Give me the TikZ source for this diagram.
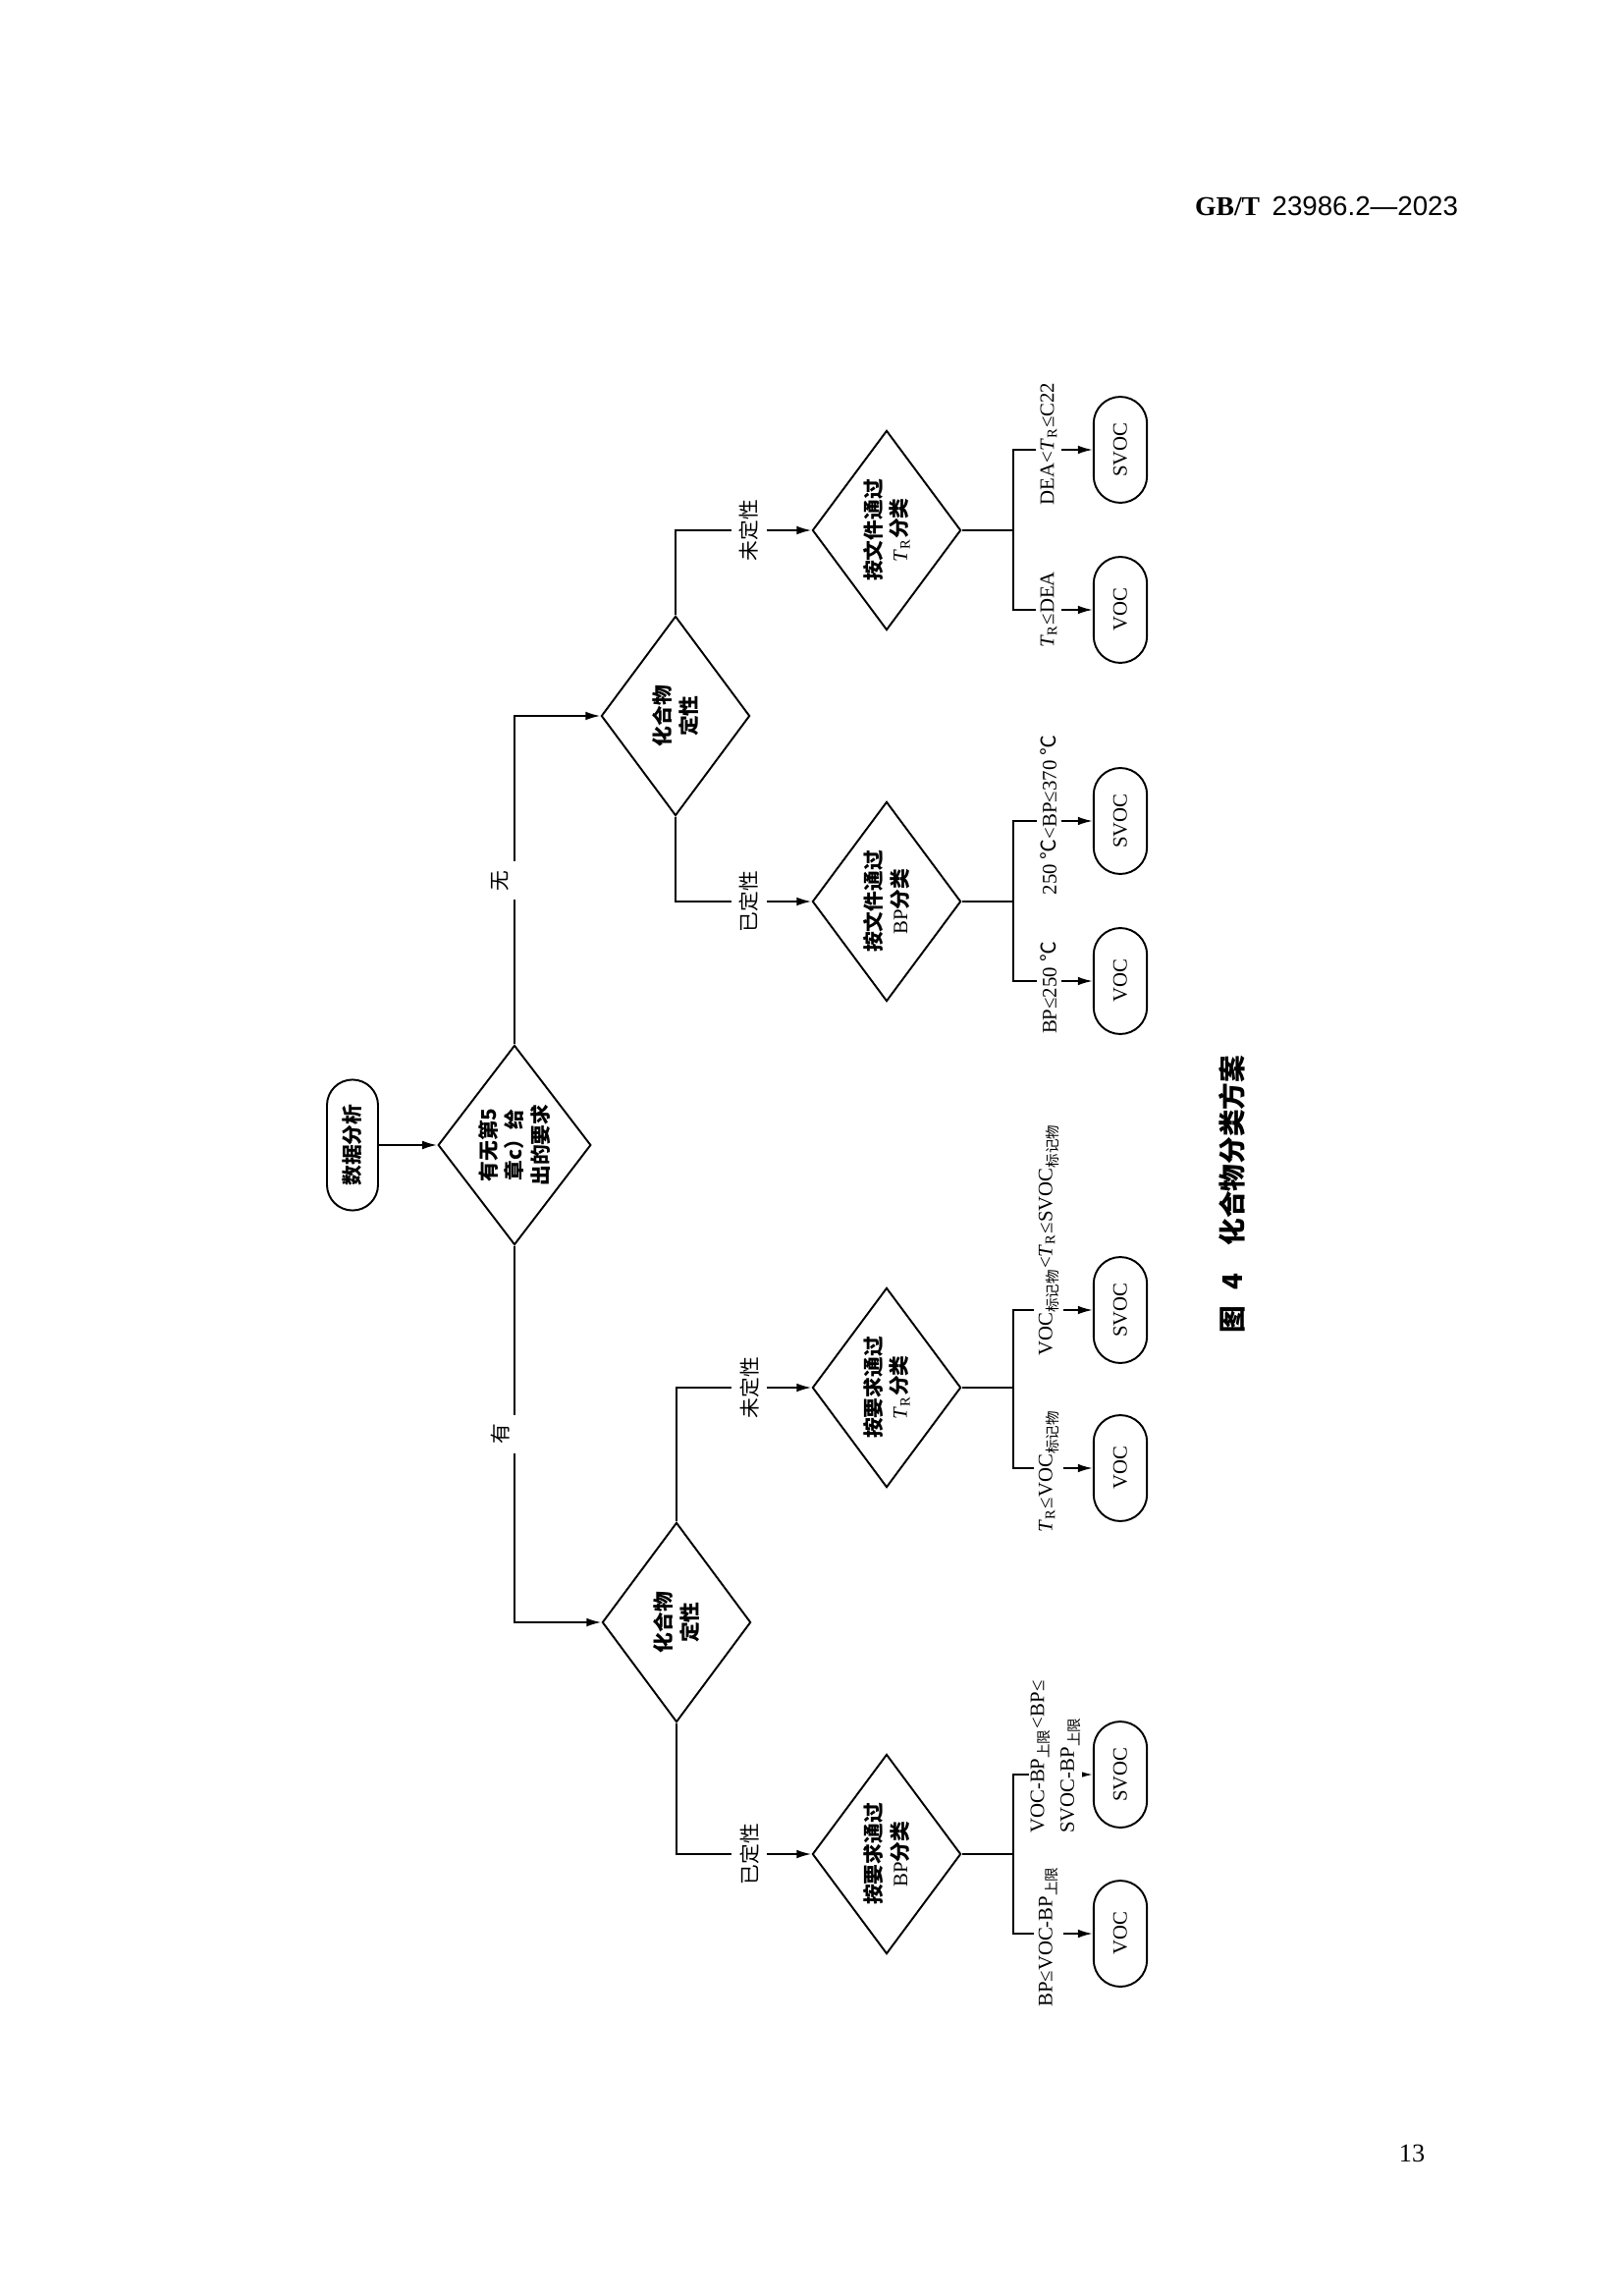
\documentclass[tikz,border=0pt]{standalone}
\usepackage{fontspec}
\setmainfont{Liberation Serif}
\newfontfamily\hei{Noto Sans CJK SC}
\newfontfamily\arialf{Liberation Sans}
\newcommand{\hz}[1]{{\hei\bfseries #1}}
\newcommand{\hr}[1]{{\hei #1}}
\newcommand{\TR}{\textit{T}\textsubscript{R}}
\usetikzlibrary{shapes.geometric,shapes.misc,arrows.meta}

\tikzset{
	conn/.style={line width=0.7pt},
	arr/.style={conn, -{Latex[length=1.9mm,width=1.1mm]}},
	dec/.style={diamond, draw, line width=0.7pt, rotate=90, inner sep=0pt,
		minimum width=2.58cm, minimum height=1.92cm, align=center,
		font=\fontsize{7.5}{9.5}\selectfont},
	pill/.style={rounded rectangle, draw, line width=0.7pt, rotate=90, inner sep=0pt,
		minimum width=1.37cm, minimum height=0.69cm, font=\fontsize{7.5}{9}\selectfont},
	cond/.style={rotate=90, fill=white, inner xsep=1pt, inner ysep=1.6pt, align=left,
		font=\fontsize{7.5}{11}\selectfont},
	lab/.style={rotate=90, fill=white, inner xsep=1pt, inner ysep=3pt,
		font=\fontsize{7.5}{9}\selectfont},
	lgap/.style={rotate=90, fill=white, inner sep=0pt, minimum width=0.5cm, minimum height=1mm},
}

\begin{document}
\begin{tikzpicture}[x=0.0127cm, y=-0.0127cm]
	\useasboundingbox (0,0) rectangle (1653,2338);
	% page header, footer and caption
	\node[font=\fontsize{10}{12}\selectfont] (hdr) at (1351,210) {\textbf{GB/T}\hspace{0.45em}{\arialf 23986.2—2023}};
	\node[font=\fontsize{9.5}{11}\selectfont] (pg) at (1438,2193) {13};
	\node[rotate=90, font=\fontsize{10}{12}\selectfont] (cap) at (1255,1216) {\hz{图\hspace{0.6em}4\hspace{1em}化合物分类方案}};

	% decisions
	\node[pill, minimum width=1.69cm, minimum height=0.66cm] (start) at (359,1166) {\hz{数据分析}};
	\node[dec] (q5) at (524,1166) {\hz{有无第5}\\\hz{章c）给}\\\hz{出的要求}};
	\node[dec] (cu) at (688,729) {\hz{化合物}\\\hz{定性}};
	\node[dec] (cl) at (689,1652) {\hz{化合物}\\\hz{定性}};
	\node[dec] (tr1) at (903,540) {\hz{按文件通过}\\\TR\hz{分类}};
	\node[dec] (bp1) at (903,918) {\hz{按文件通过}\\BP\hz{分类}};
	\node[dec] (tr2) at (903,1413) {\hz{按要求通过}\\\TR\hz{分类}};
	\node[dec] (bp2) at (903,1888) {\hz{按要求通过}\\BP\hz{分类}};

	\draw[arr] (start.south) -- (q5.north);
	\draw[arr] (q5.east) |- node[pos=.25, lgap] (gno) {} (cu.north);
	\node[lab, fill=none] (no) at (509,897) {\hr{无}};
	\draw[arr] (q5.west) |- node[pos=.25, lgap] (gyes) {} (cl.north);
	\node[lab, fill=none] (yes) at (510,1460) {\hr{有}};

	\draw[arr] (cu.east) |- node[pos=.77, lab] (n1) {\hr{未定性}} (tr1.north);
	\draw[arr] (cu.west) |- node[pos=.77, lab] (n2) {\hr{已定性}} (bp1.north);
	\draw[arr] (cl.east) |- node[pos=.77, lab] (n3) {\hr{未定性}} (tr2.north);
	\draw[arr] (cl.west) |- node[pos=.77, lab] (n4) {\hr{已定性}} (bp2.north);

	% results
	\foreach \dd/\ys/\yv in {tr1/458/621, bp1/836/999, tr2/1334/1495, bp2/1807/1969} {
			\node[pill] (s\dd) at (1141,\ys) {SVOC};
			\node[pill] (v\dd) at (1141,\yv) {VOC};
			\draw[conn] (\dd.south) -- ++(52,0) coordinate (b\dd);
			\draw[arr] (b\dd) |- (s\dd.north);
			\draw[arr] (b\dd) |- (v\dd.north);
		}

	\node[cond] (c1) at (1068,621) {\TR≤DEA};
	\node[cond] (c2) at (1068,452) {DEA<\TR≤C22};
	\node[cond] (c3) at (1068,1006) {BP≤250 \hr{℃}};
	\node[cond] (c4) at (1068,830) {250 \hr{℃}<BP≤370 \hr{℃}};
	\node[cond] (c5) at (1068,1498) {\TR≤VOC\textsubscript{\hr{标记物}}};
	\node[cond, anchor=west] (c6) at (1068,1384) {VOC\textsubscript{\hr{标记物}}<\TR≤SVOC\textsubscript{\hr{标记物}}};
	\node[cond] (c7) at (1068,1972) {BP≤VOC-BP\textsubscript{\hr{上限}}};
	\node[cond, anchor=west, inner ysep=0.5pt] (c8) at (1075,1870) {VOC-BP\textsubscript{\hr{上限}}<BP≤\\SVOC-BP\textsubscript{\hr{上限}}};
\end{tikzpicture}
\end{document}
